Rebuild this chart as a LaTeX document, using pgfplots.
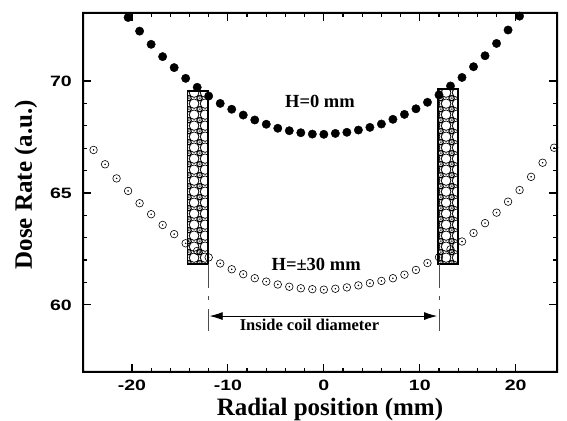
\documentclass[border=0pt]{standalone}
\usepackage{pgfplots}
\pgfplotsset{compat=1.18}
\usepackage{fontspec}
\setmainfont{Liberation Serif}
\newfontfamily\tickfont{Liberation Sans}[FakeStretch=1.3]
\usetikzlibrary{patterns,arrows.meta}

% diamond centred on a tile corner
\newcommand\coildia[2]{%
  \pgfpathmoveto{\pgfpoint{#1-2.5pt}{#2}}%
  \pgfpathlineto{\pgfpoint{#1}{#2+2.8pt}}%
  \pgfpathlineto{\pgfpoint{#1+2.5pt}{#2}}%
  \pgfpathlineto{\pgfpoint{#1}{#2-2.8pt}}%
  \pgfpathclose}
\pgfdeclarepatternformonly{coil}{\pgfqpoint{0pt}{0pt}}{\pgfqpoint{10.5pt}{11.3pt}}{\pgfqpoint{10.5pt}{11.3pt}}{%
  \pgfsetlinewidth{0.8pt}%
  \pgfpathcircle{\pgfqpoint{5.25pt}{5.65pt}}{5pt}%
  \coildia{0pt}{0pt}\coildia{10.5pt}{0pt}\coildia{0pt}{11.3pt}\coildia{10.5pt}{11.3pt}%
  \pgfusepath{stroke}%
  \pgfpathcircle{\pgfqpoint{0pt}{0pt}}{0.6pt}%
  \pgfpathcircle{\pgfqpoint{10.5pt}{0pt}}{0.6pt}%
  \pgfpathcircle{\pgfqpoint{0pt}{11.3pt}}{0.6pt}%
  \pgfpathcircle{\pgfqpoint{10.5pt}{11.3pt}}{0.6pt}%
  \pgfusepath{fill}}

\pgfplotstableread{
x y
-20.4 72.84
-19.2 72.23
-18.0 71.64
-16.8 71.09
-15.6 70.60
-14.4 70.12
-13.2 69.72
-12.0 69.33
-10.8 69.00
-9.6 68.74
-8.4 68.48
-7.2 68.26
-6.0 68.07
-4.8 67.89
-3.6 67.78
-2.4 67.69
-1.2 67.63
0.0 67.62
1.2 67.66
2.4 67.71
3.6 67.81
4.8 67.93
6.0 68.08
7.2 68.29
8.4 68.51
9.6 68.76
10.8 69.05
12.0 69.38
13.2 69.78
14.4 70.16
15.6 70.64
16.8 71.13
18.0 71.68
19.2 72.28
20.4 72.90
}\hzero

\pgfplotstableread{
x y
-24.0 66.92
-22.8 66.28
-21.6 65.65
-20.4 65.09
-19.2 64.54
-18.0 64.05
-16.8 63.57
-15.6 63.16
-14.4 62.75
-13.2 62.41
-12.0 62.12
-10.8 61.85
-9.6 61.59
-8.4 61.37
-7.2 61.19
-6.0 61.04
-4.8 60.91
-3.6 60.81
-2.4 60.74
-1.2 60.70
0.0 60.68
1.2 60.72
2.4 60.78
3.6 60.87
4.8 60.97
6.0 61.07
7.2 61.19
8.4 61.35
9.6 61.56
10.8 61.87
12.0 62.13
13.2 62.48
14.4 62.83
15.6 63.21
16.8 63.65
18.0 64.12
19.2 64.61
20.4 65.13
21.6 65.72
22.8 66.35
24.0 67.02
}\hthirty

\begin{document}
\begin{tikzpicture}
\begin{axis}[
  at={(0,0)}, anchor=south west,
  width=474pt, height=359pt, scale only axis,
  xmin=-25.1, xmax=24.3,
  ymin=57, ymax=73.04,
  clip=false,
  xtick={-20,-10,0,10,20}, minor x tick num=4,
  ytick={60,65,70}, minor y tick num=4,
  tick align=inside, xtick pos=both, ytick pos=both,
  major tick length=8pt, minor tick length=4pt,
  every tick/.style={black, line width=1.2pt},
  axis line style={draw=black, line width=2pt},
  /pgf/number format/assume math mode=true,
  ticklabel style={font=\tickfont\bfseries\fontsize{15}{17}\selectfont},
  xticklabel style={inner sep=0pt, yshift=-8pt},
  yticklabel style={inner sep=0pt, xshift=-11pt},
  xlabel={Radial position (mm)},
  ylabel={Dose Rate (a.u.)},
  every axis x label/.style={at={(axis description cs:0.521,0)}, anchor=base, yshift=-43pt,
    font=\bfseries\fontsize{25}{28}\selectfont},
  every axis y label/.style={at={(axis description cs:-0.1203,0.522)}, anchor=center, rotate=90,
    font=\bfseries\fontsize{25}{28}\selectfont},
]
% coil cross sections
\fill[white] (axis cs:-14.2,61.82) rectangle (axis cs:-12.1,69.57);
\fill[white] (axis cs:11.9,61.83) rectangle (axis cs:14.0,69.63);
\fill[pattern=coil] (axis cs:-14.2,61.82) rectangle (axis cs:-12.1,69.57);
\fill[pattern=coil] (axis cs:11.9,61.83) rectangle (axis cs:14.0,69.63);
\draw[line width=1.8pt] (axis cs:-14.2,61.82) rectangle (axis cs:-12.1,69.57);
\draw[line width=1.8pt] (axis cs:11.9,61.83) rectangle (axis cs:14.0,69.63);

% inside coil diameter
\draw[line width=0.5pt, black!70, dash pattern=on 24pt off 8pt on 4pt off 9pt]
  (axis cs:-12.05,61.82) -- (axis cs:-12.05,58.85);
\draw[line width=0.5pt, black!70, dash pattern=on 24pt off 8pt on 4pt off 9pt]
  (axis cs:12.0,61.83) -- (axis cs:12.0,58.85);
\draw[{Latex[length=13pt,width=8pt]}-{Latex[length=13pt,width=8pt]}, line width=0.8pt]
  (axis cs:-11.9,59.5) -- (axis cs:11.8,59.5);

\addplot[only marks, mark=o, mark size=3.8pt, mark options={line width=0.6pt, black}] table[x=x,y=y] {\hthirty};
\addplot[only marks, mark=*, mark size=0.5pt, black] table[x=x,y=y] {\hthirty};
\addplot[only marks, mark=*, mark size=4.2pt, black] table[x=x,y=y] {\hzero};

\node[font=\bfseries\fontsize{18.5}{20}\selectfont] at (axis cs:-0.4,69.1) {H=0 mm};
\node[font=\bfseries\fontsize{18.5}{20}\selectfont] at (axis cs:-0.8,61.8) {H=±30 mm};
\node[font=\bfseries\fontsize{16.5}{18}\selectfont] at (axis cs:-1.5,59.1) {Inside coil diameter};
\end{axis}
% axis frame, as a filled ring
\fill[black, even odd rule] (-1pt,-1pt) rectangle (475pt,360pt) (1pt,1pt) rectangle (473pt,358pt);
\pgfresetboundingbox
\useasboundingbox (-83pt,-48pt) rectangle (484pt,372pt);
\end{tikzpicture}
\end{document}
